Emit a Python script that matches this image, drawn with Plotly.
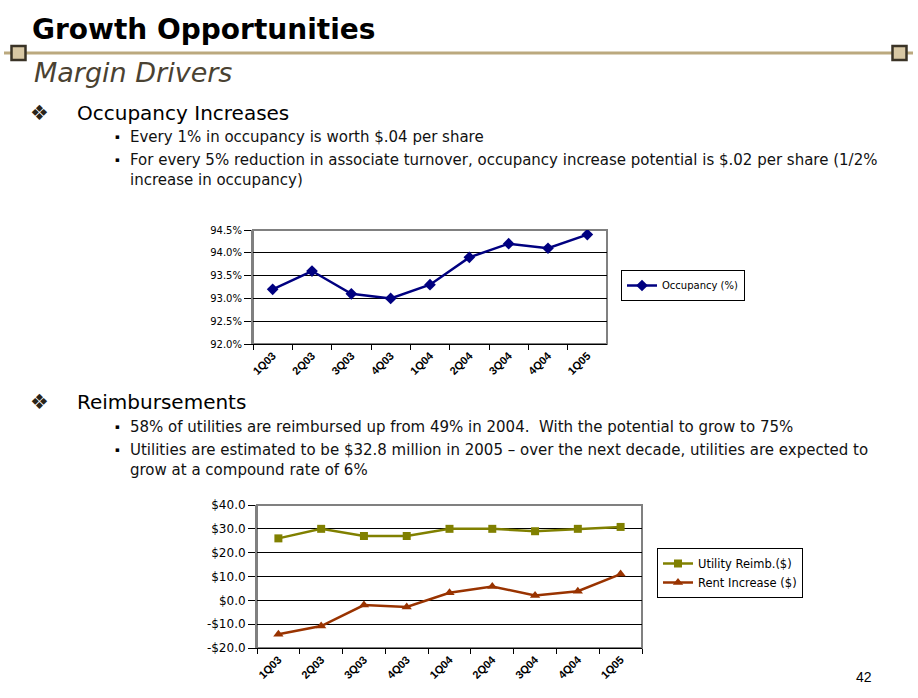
import plotly.graph_objects as go

quarters = ["1Q03", "2Q03", "3Q03", "4Q03", "1Q04", "2Q04", "3Q04", "4Q04", "1Q05"]
occupancy = [93.2, 93.6, 93.1, 93.0, 93.3, 93.9, 94.2, 94.1, 94.4]
utility_reimb = [26.0, 30.0, 27.0, 27.0, 30.0, 30.0, 29.0, 30.0, 30.8]
rent_increase = [-14.2, -10.8, -2.0, -2.8, 3.2, 5.8, 2.0, 3.8, 11.0]
occ_ticks = [92.0, 92.5, 93.0, 93.5, 94.0, 94.5]
occ_labels = ["92.0%", "92.5%", "93.0%", "93.5%", "94.0%", "94.5%"]
money_ticks = [-20, -10, 0, 10, 20, 30, 40]
money_labels = ["-$20.0", "-$10.0", "$0.0", "$10.0", "$20.0", "$30.0", "$40.0"]

W, H = 918, 698
FONT = "Liberation Sans, Arial, sans-serif"
DV = "DejaVu Sans, sans-serif"


def px(x):
    return x / W


def py(y):
    return 1 - y / H


fig = go.Figure()

fig.add_trace(go.Scatter(
    x=quarters, y=occupancy, name="Occupancy (%)", mode="lines+markers",
    line=dict(color="#000080", width=2.5),
    marker=dict(symbol="diamond", size=9, color="#000080"),
    xaxis="x", yaxis="y", legend="legend"))

fig.add_trace(go.Scatter(
    x=quarters, y=utility_reimb, name="Utility Reimb.($)", mode="lines+markers",
    line=dict(color="#808000", width=2.5),
    marker=dict(symbol="square", size=8, color="#808000"),
    xaxis="x2", yaxis="y2", legend="legend2"))

fig.add_trace(go.Scatter(
    x=quarters, y=rent_increase, name="Rent Increase ($)", mode="lines+markers",
    line=dict(color="#993300", width=2.5),
    marker=dict(symbol="triangle-up", size=9, color="#993300"),
    xaxis="x2", yaxis="y2", legend="legend2"))

c1 = dict(x0=253, x1=607, y0=230, y1=344)
c2 = dict(x0=257, x1=642, y0=505, y1=648)

xcommon = dict(type="category", categoryarray=quarters, range=[-0.5, 8.5],
               tickangle=-45, ticks="outside", tickson="boundaries", ticklen=5,
               tickcolor="black", showline=True, linecolor="black", linewidth=1,
               showgrid=False, zeroline=False, automargin=False,
               tickfont=dict(family=FONT, size=11, color="black", weight="bold"))
ycommon = dict(ticks="outside", ticklen=7, tickcolor="black", showline=True,
               linecolor="#808080", linewidth=2, showgrid=True, gridcolor="black",
               gridwidth=1, zeroline=False, automargin=False)

fig.update_layout(
    template="none",
    width=W, height=H, margin=dict(l=0, r=0, t=0, b=0, pad=0, autoexpand=False),
    paper_bgcolor="white", plot_bgcolor="white",
    xaxis=dict(domain=[px(c1["x0"]), px(c1["x1"])], anchor="y", **xcommon),
    yaxis=dict(domain=[py(c1["y1"]), py(c1["y0"])], anchor="x",
               range=[92.0, 94.5], tickvals=occ_ticks, ticktext=occ_labels,
               tickfont=dict(family=DV, size=10, color="black"), **ycommon),
    xaxis2=dict(domain=[px(c2["x0"]), px(c2["x1"])], anchor="y2", **xcommon),
    yaxis2=dict(domain=[py(c2["y1"]), py(c2["y0"])], anchor="x2",
                range=[-20, 40], tickvals=money_ticks, ticktext=money_labels,
                tickfont=dict(family=DV, size=12, color="black"), **ycommon),
    legend=dict(x=px(621), y=py(270), xanchor="left", yanchor="top",
                bordercolor="black", borderwidth=1, bgcolor="white",
                font=dict(family=DV, size=10, color="black"),
                itemwidth=30, tracegroupgap=0),
    legend2=dict(x=px(657), y=py(548), xanchor="left", yanchor="top",
                 bordercolor="black", borderwidth=1, bgcolor="white",
                 font=dict(family=DV, size=11.5, color="black"),
                 itemwidth=30, tracegroupgap=0),
    showlegend=True,
)

shapes = []
for xr, yr in [("x domain", "y domain"), ("x2 domain", "y2 domain")]:
    shapes.append(dict(type="rect", xref=xr, yref=yr, x0=0, x1=1, y0=0, y1=1,
                       line=dict(color="#808080", width=2), layer="below"))

# header rule with end squares
shapes.append(dict(type="line", xref="paper", yref="paper",
                   x0=px(4), x1=px(913), y0=py(53), y1=py(53),
                   line=dict(color="#BBA97E", width=3)))
for cx in [18.5, 899.5]:
    shapes.append(dict(type="rect", xref="paper", yref="paper",
                       x0=px(cx - 7), x1=px(cx + 7), y0=py(60), y1=py(46),
                       fillcolor="#D8C8A4", line=dict(color="#3a3326", width=2.5)))
fig.update_layout(shapes=shapes)

ann = []


def text(x, y, s, size, color="black", bold=False, italic=False, family=DV):
    if bold:
        s = "<b>" + s + "</b>"
    if italic:
        s = "<i>" + s + "</i>"
    ann.append(dict(x=px(x), y=py(y), xref="paper", yref="paper", text=s,
                    showarrow=False, xanchor="left", yanchor="middle",
                    font=dict(family=family, size=size, color=color)))


text(30, 29, "Growth Opportunities", 28, bold=True)
text(32, 72, "Margin Drivers", 27, color="#4A4232", italic=True)

text(28, 113, "❖", 21, color="#2a2418")
text(75, 113, "Occupancy Increases", 20)
text(113, 137, "▪", 7)
text(128, 137, "Every 1% in occupancy is worth $.04 per share", 15, color="#111")
text(113, 160, "▪", 7)
text(128, 160, "For every 5% reduction in associate turnover, occupancy increase potential is $.02 per share (1/2%", 15, color="#111")
text(128, 180, "increase in occupancy)", 15, color="#111")

text(28, 402, "❖", 21, color="#2a2418")
text(75, 402, "Reimbursements", 20)
text(113, 427, "▪", 7)
text(128, 427, "58% of utilities are reimbursed up from 49% in 2004.  With the potential to grow to 75%", 15, color="#111")
text(113, 450, "▪", 7)
text(128, 450, "Utilities are estimated to be $32.8 million in 2005 – over the next decade, utilities are expected to", 15, color="#111")
text(128, 470, "grow at a compound rate of 6%", 15, color="#111")

text(854, 677, "42", 14, family=FONT)

fig.update_layout(annotations=ann)

fig.write_html("out.html", config={"displayModeBar": False},
               post_script="document.body.style.margin='0';")
